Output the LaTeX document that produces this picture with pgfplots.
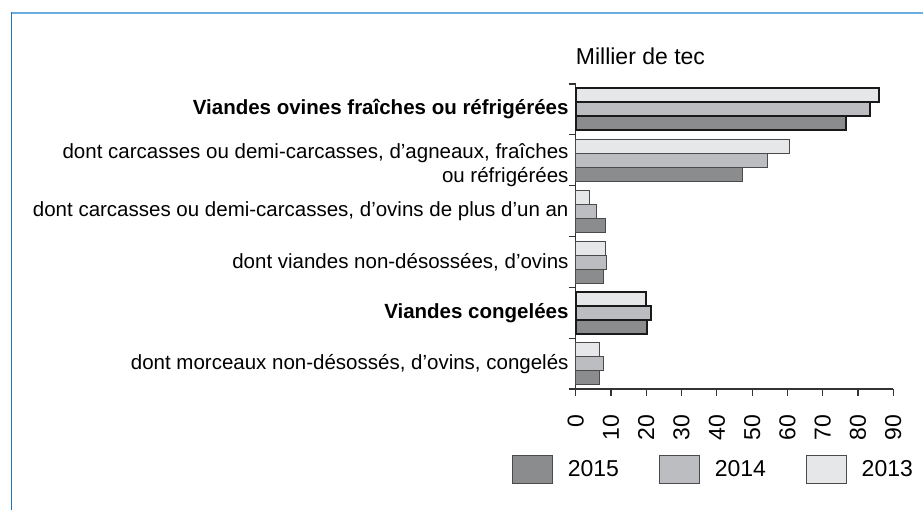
\documentclass[border=0pt]{standalone}
\usepackage{fontspec}
\setmainfont{Liberation Sans}
\usepackage{pgfplots}
\pgfplotsset{compat=1.18}
\definecolor{c15}{HTML}{8B8C8E}
\definecolor{c14}{HTML}{BCBDC0}
\definecolor{c13}{HTML}{E6E7E8}
\definecolor{outl}{HTML}{4A4A4A}
\definecolor{boldout}{HTML}{1A1A1A}
\definecolor{topblue}{HTML}{6AADDF}
\definecolor{leftblue}{HTML}{1F73B7}
\definecolor{axcol}{HTML}{333333}
\pgfplotsset{boxlegend/.style={legend image code/.code={\draw[##1] (0bp,-14bp) rectangle (40bp,14bp);}}}
\begin{document}
\begin{tikzpicture}[x=1bp,y=1bp]
\path[use as bounding box] (0,0) rectangle (923,510);
\draw[topblue, line width=2bp] (10.5,497.3) -- (923,497.3);
\draw[leftblue, line width=1.6bp] (11.3,498.3) -- (11.3,0);
\begin{axis}[
  at={(575.7bp,121bp)}, anchor=south west,
  scale only axis, width=317.6bp, height=305bp,
  xbar, bar width=14bp,
  xmin=0, xmax=90, ymin=-0.5, ymax=5.5,
  clip=false,
  axis x line=bottom, axis y line=left,
  axis line style={-, axcol, line width=1.1bp},
  tick style={axcol, line width=1.1bp},
  tick align=outside, major tick length=7bp,
  xtick={0,10,...,90},
  ytick={-0.5,0.5,1.5,2.5,3.5,4.5,5.5},
  yticklabels={{},{dont morceaux non-désossés, d’ovins, congelés},{\textbf{Viandes congelées}},{dont viandes non-désossées, d’ovins},{dont carcasses ou demi-carcasses, d’ovins de plus d’un an},{\raisebox{-5.5bp}[\height][\depth]{\begin{tabular}{@{}r@{}}dont carcasses ou demi-carcasses, d’agneaux, fraîches\\ou réfrigérées\end{tabular}}},{\textbf{Viandes ovines fraîches ou réfrigérées}}},
  yticklabel style={anchor=east, align=right, inner sep=0pt, font=\fontsize{20.5bp}{24bp}\selectfont, yshift=-25.42bp},
  xticklabel shift=19bp,
  xticklabel style={rotate=90, anchor=east, inner sep=0pt, font=\fontsize{23bp}{27bp}\selectfont},
  /pgf/number format/assume math mode=true,
  legend columns=3,
  legend style={at={(-0.2006,-0.2623)}, anchor=west, draw=none, fill=none, inner sep=0pt, outer sep=0pt, font=\fontsize{23bp}{27bp}\selectfont, nodes={inner sep=0pt}, /tikz/every odd column/.append style={column sep=15bp}, /tikz/every even column/.append style={column sep=40bp}},
]
\addplot[fill=c15, draw=outl, line width=0.8bp, bar shift=-14bp, boxlegend] coordinates {(47.2,4) (8.3,3) (7.8,2) (6.6,0)};
\addlegendentry{2015}
\addplot[fill=c15, draw=boldout, line width=2bp, bar shift=-14bp, forget plot] coordinates {(76.6,5) (20.3,1)};
\addplot[fill=c14, draw=outl, line width=0.8bp, bar shift=0bp, boxlegend] coordinates {(54.2,4) (5.8,3) (8.7,2) (7.8,0)};
\addlegendentry{2014}
\addplot[fill=c14, draw=boldout, line width=2bp, bar shift=0bp, forget plot] coordinates {(83.4,5) (21.3,1)};
\addplot[fill=c13, draw=outl, line width=0.8bp, bar shift=14bp, boxlegend] coordinates {(60.5,4) (3.9,3) (8.3,2) (6.8,0)};
\addlegendentry{2013}
\addplot[fill=c13, draw=boldout, line width=2bp, bar shift=14bp, forget plot] coordinates {(86.0,5) (19.8,1)};
\node[anchor=base west, inner sep=0pt, yshift=19bp, font=\fontsize{23bp}{27bp}\selectfont] at (rel axis cs:0,1) {Millier de tec};
\end{axis}
\end{tikzpicture}
\end{document}
